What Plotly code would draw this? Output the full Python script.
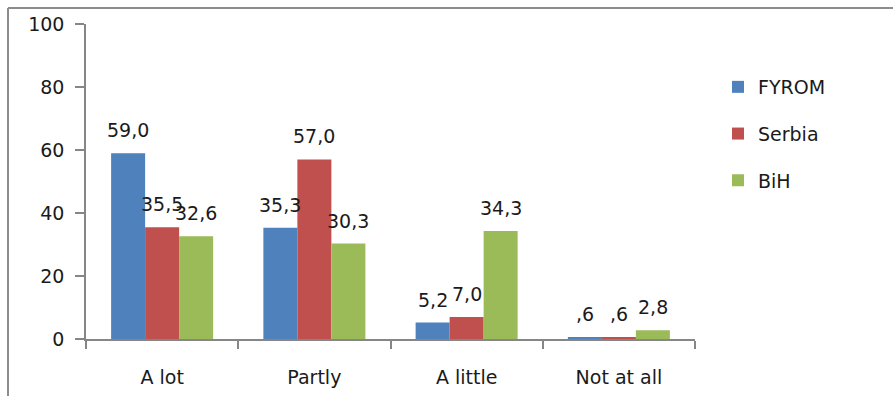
import plotly.graph_objects as go

categories = ["A lot", "Partly", "A little", "Not at all"]
series_names = ["FYROM", "Serbia", "BiH"]
fyrom = [59.0, 35.3, 5.2, 0.6]
serbia = [35.5, 57.0, 7.0, 0.6]
bih = [32.6, 30.3, 34.3, 2.8]
colors = ["#4F81BD", "#C0504D", "#9BBB59"]
y_ticks = [0, 20, 40, 60, 80, 100]

FONT = "DejaVu Sans"
TXT = "#1a1a1a"
AX = "#868686"


def fmt(v):
    s = f"{v:.1f}".replace(".", ",")
    if s.startswith("0,"):
        s = s[1:]
    return s


fig = go.Figure()
all_series = [fyrom, serbia, bih]
for i, (name, vals) in enumerate(zip(series_names, all_series)):
    fig.add_trace(go.Bar(
        x=categories, y=vals, name=name,
        marker=dict(color=colors[i], line=dict(width=0)),
        legendgroup=name,
    ))

offsets = [-34, 0, 34]
annotations = []
for i, vals in enumerate(all_series):
    for c, v in zip(categories, vals):
        annotations.append(dict(
            x=c, y=v, xref="x", yref="y", text=fmt(v), showarrow=False,
            xshift=offsets[i], yshift=23, yanchor="middle",
            font=dict(family=FONT, size=19, color=TXT),
        ))

W, H = 893, 396
L, R, T, B = 86, 198, 24, 57
pw = W - L - R
ph = H - T - B

def px_x(p):
    return (p - L) / pw

def px_y(p):
    return (H - B - p) / ph

shapes = [
    dict(type="line", xref="paper", yref="paper", x0=px_x(8), x1=px_x(895),
         y0=px_y(8), y1=px_y(8), line=dict(color="#8c8c8c", width=2)),
    dict(type="line", xref="paper", yref="paper", x0=px_x(8), x1=px_x(8),
         y0=px_y(8), y1=px_y(400), line=dict(color="#8c8c8c", width=2)),
]

fig.update_layout(
    width=W, height=H,
    margin=dict(l=L, r=R, t=T, b=B, pad=0, autoexpand=False),
    paper_bgcolor="white", plot_bgcolor="white",
    barmode="group", bargap=0.33, bargroupgap=0,
    font=dict(family=FONT, size=19, color=TXT),
    annotations=annotations,
    shapes=shapes,
    legend=dict(
        x=px_x(718), y=px_y(68), xanchor="left", yanchor="top",
        font=dict(family=FONT, size=19, color=TXT),
        tracegroupgap=19, bgcolor="rgba(0,0,0,0)",
    ),
    showlegend=True,
)
fig.update_xaxes(
    automargin=False,
    showline=True, linecolor=AX, linewidth=1.5,
    ticks="outside", tickson="boundaries", ticklen=8, tickcolor=AX, tickwidth=1.5,
    showgrid=False, ticklabelstandoff=20,
    tickfont=dict(family=FONT, size=19, color=TXT),
)
fig.update_yaxes(
    automargin=False,
    range=[0, 100], tickvals=y_ticks, showline=True, linecolor=AX, linewidth=1.5,
    ticks="outside", ticklen=9, tickcolor=AX, tickwidth=1.5,
    showgrid=False, zeroline=False, ticklabelstandoff=7,
    tickfont=dict(family=FONT, size=19, color=TXT),
)

fig.write_html("out.html")
